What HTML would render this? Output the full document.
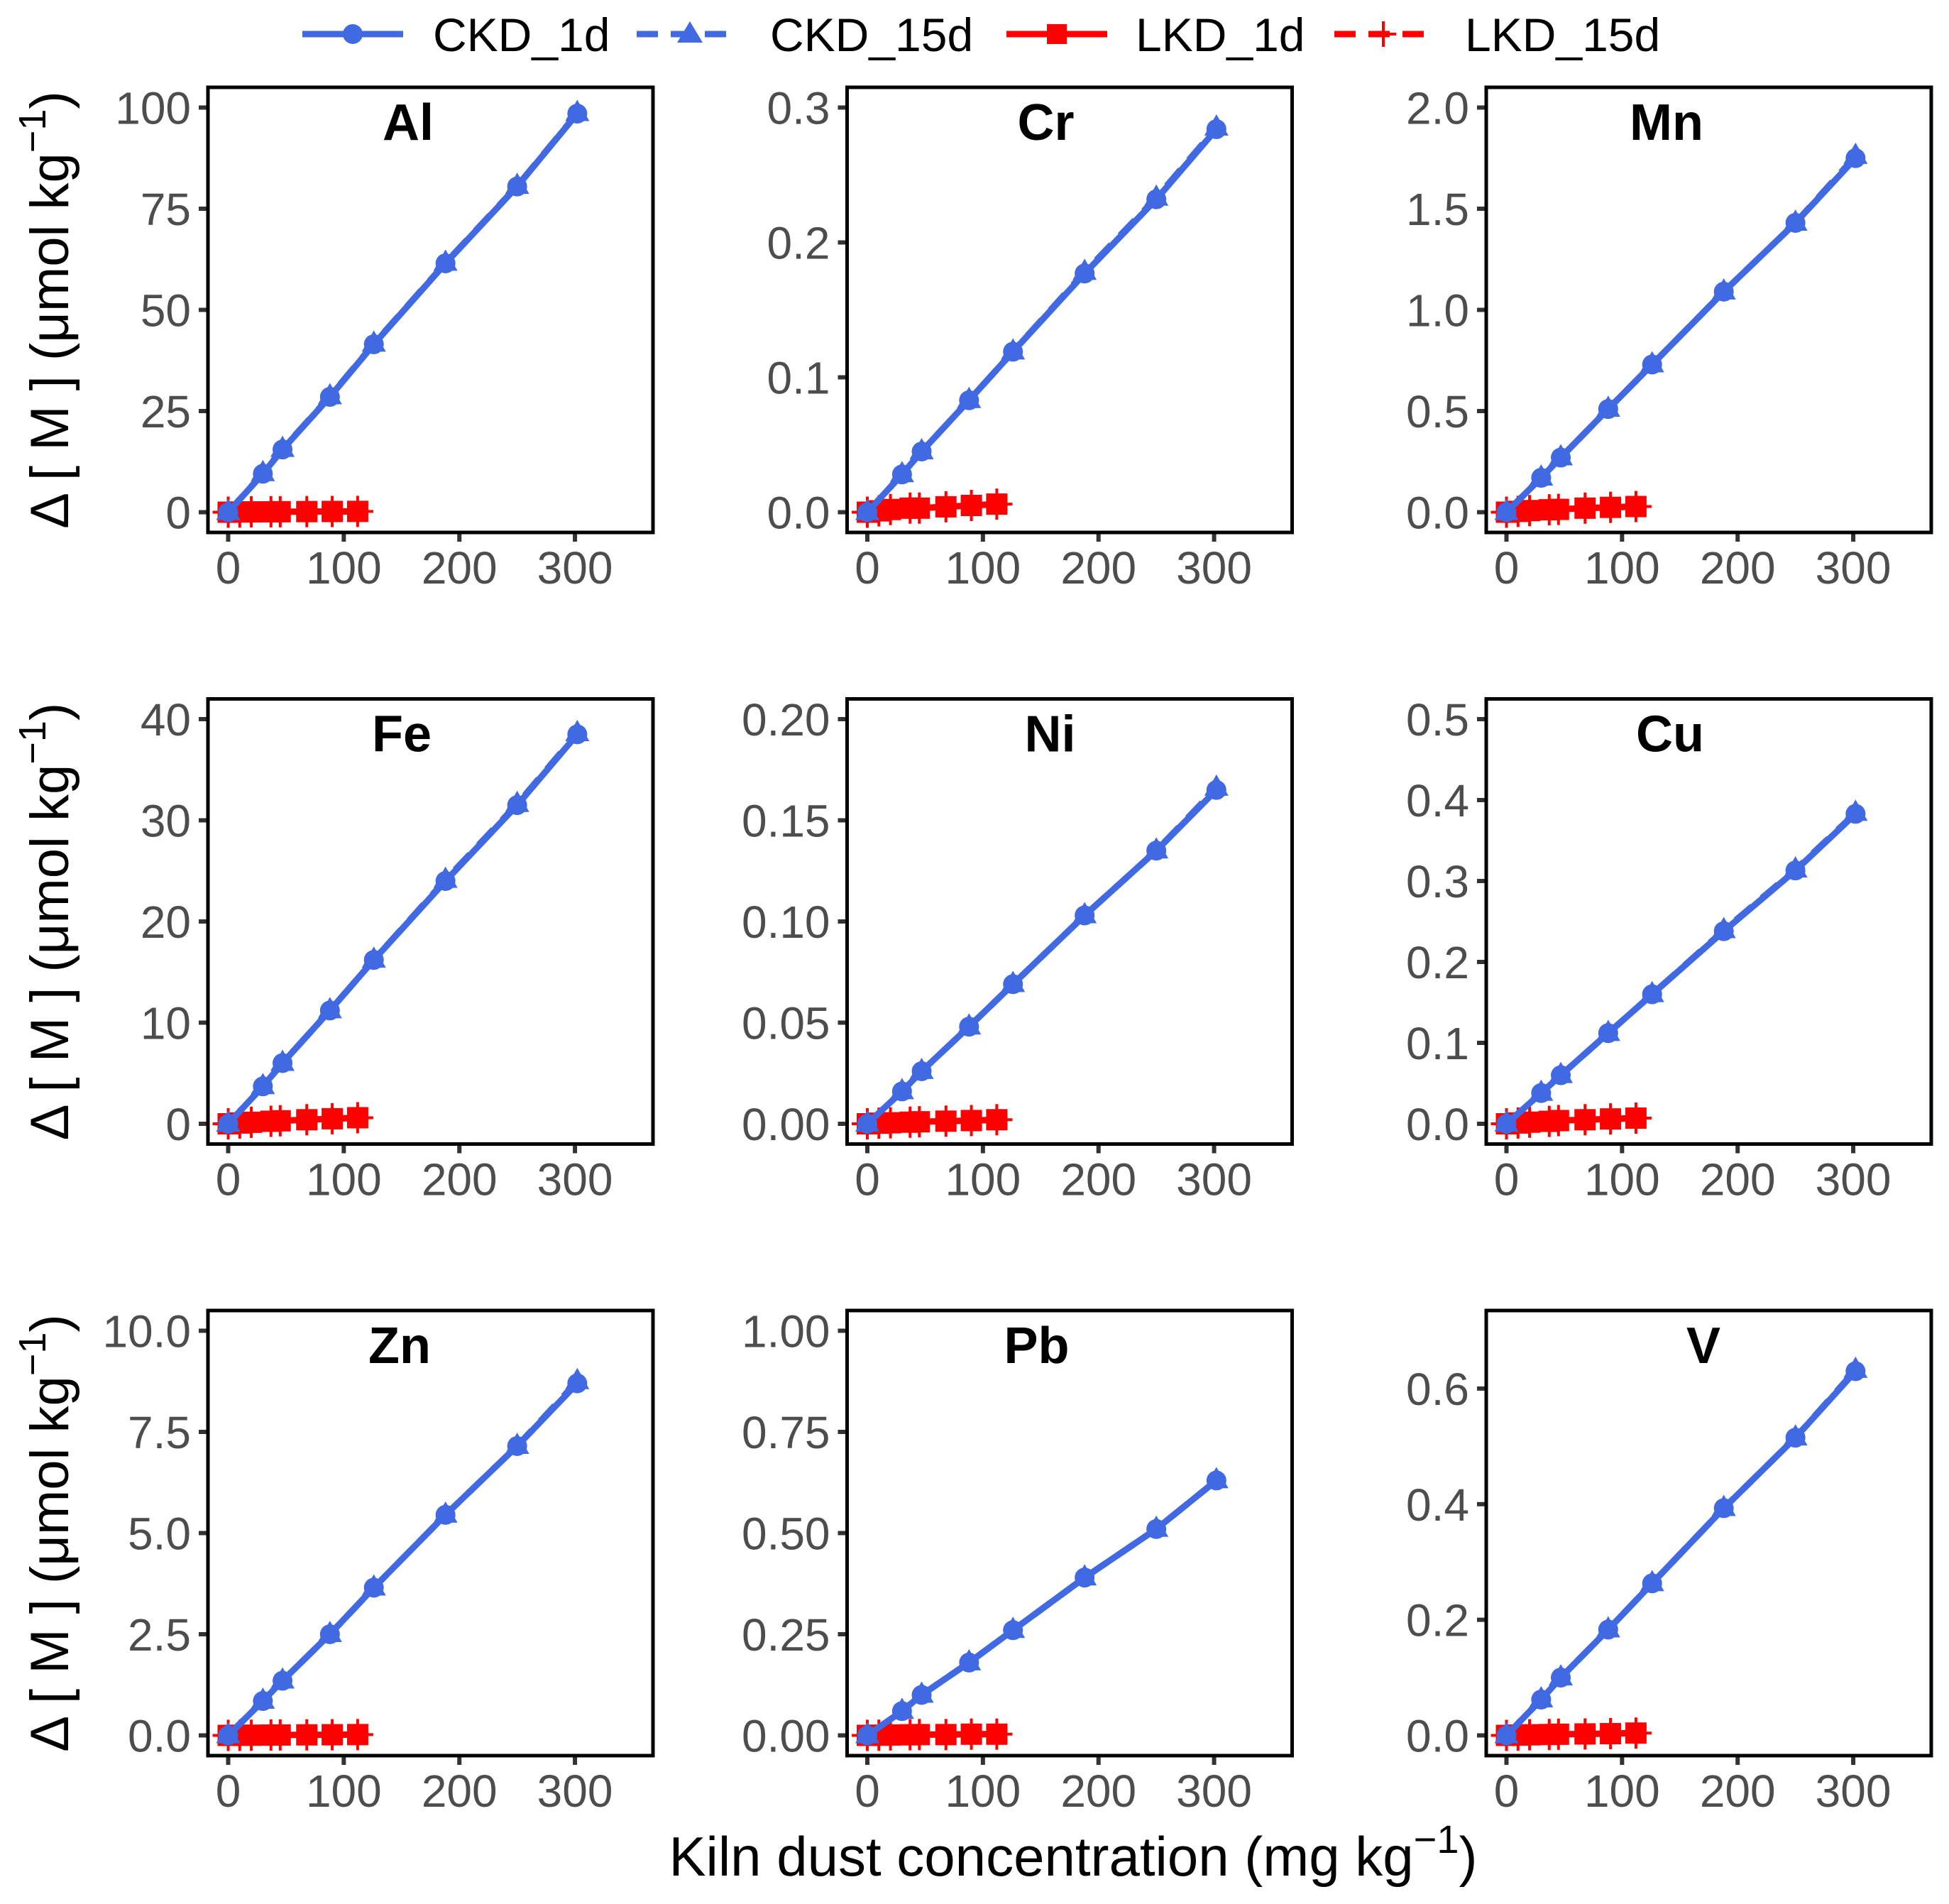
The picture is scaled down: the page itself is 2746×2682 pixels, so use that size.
<!DOCTYPE html>
<html><head><meta charset="utf-8">
<style>
html,body{margin:0;padding:0;background:#fff;}
svg{display:block;font-family:"Liberation Sans",sans-serif;}
</style></head>
<body>
<svg id="chart" width="2746" height="2682" viewBox="0 0 2746 2682" xmlns="http://www.w3.org/2000/svg">
<g id="legend">
  <g>
    <line x1="426" y1="48" x2="568" y2="48" stroke="#4169E1" stroke-width="9"/>
    <circle cx="497" cy="48" r="14" fill="#4169E1"/>
    <text x="610" y="72" font-size="66" fill="#000">CKD_1d</text>
  </g>
  <g>
    <line x1="897" y1="48" x2="1039" y2="48" stroke="#4169E1" stroke-width="9" stroke-dasharray="30,18"/>
    <polygon points="972,30 990,60 954,60" fill="#4169E1"/>
    <text x="1085" y="72" font-size="66" fill="#000">CKD_15d</text>
  </g>
  <g>
    <line x1="1418" y1="48" x2="1560" y2="48" stroke="#FF0000" stroke-width="9"/>
    <rect x="1475" y="34" width="28" height="28" fill="#FF0000"/>
    <text x="1600" y="72" font-size="66" fill="#000">LKD_1d</text>
  </g>
  <g>
    <line x1="1880" y1="48" x2="2022" y2="48" stroke="#FF0000" stroke-width="9" stroke-dasharray="30,18"/>
    <line x1="1931" y1="48" x2="1967" y2="48" stroke="#FF0000" stroke-width="4"/>
    <line x1="1949" y1="30" x2="1949" y2="66" stroke="#FF0000" stroke-width="4"/>
    <text x="2064" y="72" font-size="66" fill="#000">LKD_15d</text>
  </g>
</g>
<g id="panels"></g>
<text x="1512" y="2642" font-size="78" text-anchor="middle" fill="#000">Kiln dust concentration (mg kg<tspan dy="-32" font-size="56">−1</tspan><tspan dy="32">)</tspan></text>
</svg>
<script>
// ---- data ----
const panelNames = ["Al","Cr","Mn","Fe","Ni","Cu","Zn","Pb","V"];
const ckdX = [0, 30, 47, 88, 126, 188, 250, 302];
const lkdX = [0, 10, 20, 37, 45, 68, 90, 112];
const ckd1d = [
  [0, 9.5, 15.5, 28.5, 41.5, 61.5, 80.5, 98.5],
  [0, 0.028, 0.045, 0.083, 0.119, 0.177, 0.232, 0.284],
  [0, 0.17, 0.27, 0.51, 0.73, 1.09, 1.43, 1.75],
  [0, 3.7, 6.0, 11.2, 16.2, 24.0, 31.5, 38.5],
  [0, 0.016, 0.026, 0.048, 0.069, 0.103, 0.135, 0.165],
  [0, 0.038, 0.060, 0.112, 0.160, 0.238, 0.313, 0.383],
  [0, 0.85, 1.35, 2.5, 3.65, 5.45, 7.15, 8.7],
  [0, 0.06, 0.10, 0.18, 0.26, 0.39, 0.51, 0.63],
  [0, 0.062, 0.100, 0.183, 0.263, 0.393, 0.515, 0.630]
];
const ckd15d = [
  [0, 9.6, 15.6, 28.6, 41.6, 61.6, 80.6, 98.6],
  [0, 0.028, 0.045, 0.083, 0.119, 0.178, 0.233, 0.285],
  [0, 0.17, 0.27, 0.51, 0.73, 1.09, 1.43, 1.76],
  [0, 3.7, 6.0, 11.2, 16.2, 24.1, 31.6, 38.6],
  [0, 0.016, 0.026, 0.048, 0.069, 0.103, 0.135, 0.166],
  [0, 0.038, 0.060, 0.112, 0.160, 0.239, 0.314, 0.384],
  [0, 0.85, 1.35, 2.5, 3.65, 5.45, 7.15, 8.75],
  [0, 0.06, 0.10, 0.18, 0.26, 0.39, 0.51, 0.63],
  [0, 0.062, 0.100, 0.183, 0.263, 0.393, 0.515, 0.632]
];
const lkd1d = [
  [0, 0.05, 0.08, 0.1, 0.12, 0.15, 0.18, 0.2],
  [0, 0.001, 0.002, 0.003, 0.003, 0.004, 0.005, 0.006],
  [0, 0.004, 0.008, 0.012, 0.014, 0.02, 0.024, 0.028],
  [0, 0.08, 0.15, 0.25, 0.3, 0.4, 0.5, 0.6],
  [0, 0.0003, 0.0005, 0.0008, 0.001, 0.0013, 0.0016, 0.002],
  [0, 0.001, 0.002, 0.003, 0.004, 0.005, 0.006, 0.007],
  [0, 0.003, 0.005, 0.008, 0.01, 0.013, 0.016, 0.02],
  [0, 0.0005, 0.001, 0.0015, 0.002, 0.002, 0.003, 0.003],
  [0, 0.0005, 0.001, 0.0015, 0.002, 0.0025, 0.003, 0.004]
];
const lkd15d = lkd1d;
const yMax = [100, 0.3, 2, 40, 0.2, 0.5, 10, 1, 0.7];
const yTicks = [
  [0,25,50,75,100],[0,0.1,0.2,0.3],[0,0.5,1,1.5,2],
  [0,10,20,30,40],[0,0.05,0.1,0.15,0.2],[0,0.1,0.2,0.3,0.4,0.5],
  [0,2.5,5,7.5,10],[0,0.25,0.5,0.75,1],[0,0.2,0.4,0.6]
];
const yTickLabels = [
  ["0","25","50","75","100"],["0.0","0.1","0.2","0.3"],["0.0","0.5","1.0","1.5","2.0"],
  ["0","10","20","30","40"],["0.00","0.05","0.10","0.15","0.20"],["0.0","0.1","0.2","0.3","0.4","0.5"],
  ["0.0","2.5","5.0","7.5","10.0"],["0.00","0.25","0.50","0.75","1.00"],["0.0","0.2","0.4","0.6"]
];
const xTicks = [0,100,200,300];
const xTickLabels = ["0","100","200","300"];
const titleOffsets = [282, 280, 254, 273, 286, 259, 270, 267, 306];

// ---- layout ----
const NS = "http://www.w3.org/2000/svg";
const colLeft = [293, 1193.5, 2094];
const rowTop = [123, 984.5, 1846];
const PW = 627, PH = 627;
const xMin = -17.5, xMaxD = 367.5;
const BLUE = "#4169E1", RED = "#FF0000";
const root = document.getElementById("panels");

function mk(tag, attrs, parent) {
  const e = document.createElementNS(NS, tag);
  for (const k in attrs) e.setAttribute(k, attrs[k]);
  parent.appendChild(e);
  return e;
}

for (let p = 0; p < 9; p++) {
  const L = colLeft[p % 3], T = rowTop[Math.floor(p / 3)];
  const yLo = -0.05 * yMax[p], yHi = 1.05 * yMax[p];
  const sx = v => L + (v - xMin) / (xMaxD - xMin) * PW;
  const sy = v => T + PH - (v - yLo) / (yHi - yLo) * PH;

  const g = mk("g", {}, root);
  
  

  const clipId = "clip" + p;
  const cp = mk("clipPath", {id: clipId}, g);
  mk("rect", {x: L, y: T, width: PW, height: PH}, cp);

  yTicks[p].forEach((t, i) => {
    const y = sy(t);
    const tk = mk("line", {x1: L - 13, y1: y, x2: L, y2: y, stroke: "#333", "stroke-width": 6}, g);
    
    
    const tl = mk("text", {x: L - 24, y: y + 23, "font-size": 64, "text-anchor": "end", fill: "#4d4d4d"}, g);
    
    
    tl.textContent = yTickLabels[p][i];
  });
  xTicks.forEach((t, i) => {
    const x = sx(t);
    const tk = mk("line", {x1: x, y1: T + PH, x2: x, y2: T + PH + 13, stroke: "#333", "stroke-width": 6}, g);
    
    
    const tl = mk("text", {x: x, y: T + PH + 72, "font-size": 64, "text-anchor": "middle", fill: "#4d4d4d"}, g);
    
    
    tl.textContent = xTickLabels[i];
  });

  const data = mk("g", {"clip-path": "url(#" + clipId + ")"}, g);
  
  

  const lk1 = mk("polyline", {points: lkdX.map((x, i) => sx(x) + "," + sy(lkd1d[p][i])).join(" "), fill: "none", stroke: RED, "stroke-width": 9}, data);
  
  
  const lk15 = mk("polyline", {points: lkdX.map((x, i) => sx(x) + "," + sy(lkd15d[p][i])).join(" "), fill: "none", stroke: RED, "stroke-width": 9, "stroke-dasharray": "30,18"}, data);
  
  
  lkdX.forEach((x, i) => {
    const cx = sx(x), cy = sy(lkd1d[p][i]);
    const r = mk("rect", {x: cx - 15, y: cy - 15, width: 30, height: 30, fill: RED}, data);
    
    
    const cy2 = sy(lkd15d[p][i]);
    const pl = mk("path", {d: `M${cx-22},${cy2}H${cx+22}M${cx},${cy2-22}V${cy2+22}`, stroke: RED, "stroke-width": 4}, data);
    
    
  });

  const c1 = mk("polyline", {points: ckdX.map((x, i) => sx(x) + "," + sy(ckd1d[p][i])).join(" "), fill: "none", stroke: BLUE, "stroke-width": 9}, data);
  
  
  const c15 = mk("polyline", {points: ckdX.map((x, i) => sx(x) + "," + sy(ckd15d[p][i])).join(" "), fill: "none", stroke: BLUE, "stroke-width": 9, "stroke-dasharray": "30,18"}, data);
  
  
  ckdX.forEach((x, i) => {
    const cx = sx(x), cy = sy(ckd1d[p][i]);
    const c = mk("circle", {cx: cx, cy: cy, r: 14, fill: BLUE}, data);
    
    
    const cy2 = sy(ckd15d[p][i]);
    const tr = mk("polygon", {points: `${cx},${cy2-19} ${cx+17},${cy2+11} ${cx-17},${cy2+11}`, fill: BLUE}, data);
    
    
  });

  const fr = mk("rect", {x: L, y: T, width: PW, height: PH, fill: "none", stroke: "#000", "stroke-width": 5}, g);
  
  

  const tt = mk("text", {x: L + titleOffsets[p], y: T + 74, "font-size": 72, "font-weight": "bold", "text-anchor": "middle", fill: "#000"}, g);
  
  
  tt.textContent = panelNames[p];

  if (p % 3 === 0) {
    const cyT = T + PH / 2;
    const yt = mk("text", {x: 0, y: 0, "font-size": 76, "text-anchor": "middle", fill: "#000", transform: `translate(96,${cyT}) rotate(-90)`}, g);
    
    
    yt.innerHTML = 'Δ [ M ] (μmol kg<tspan dy="-32" font-size="54">−1</tspan><tspan dy="32">)</tspan>';
  }
}
</script>
</body></html>
